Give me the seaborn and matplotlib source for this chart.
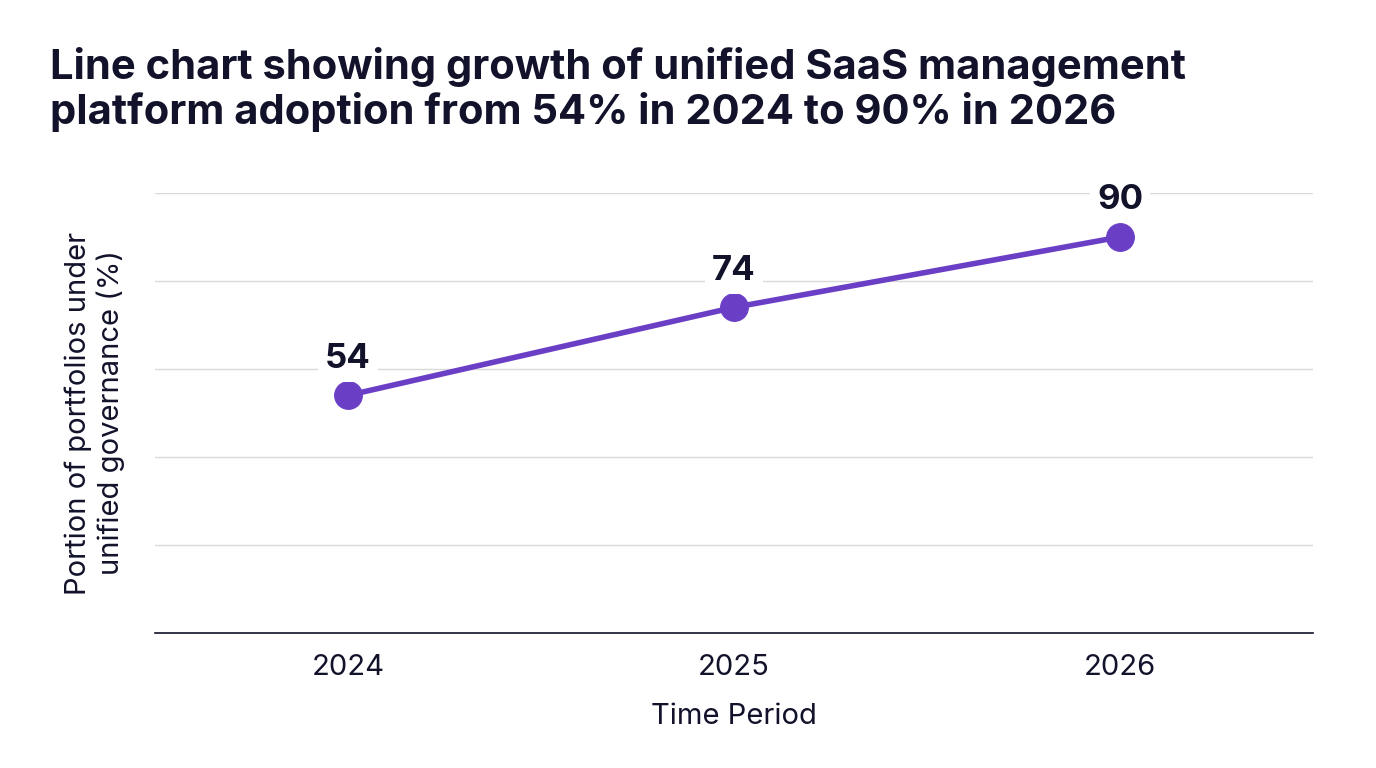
import matplotlib
matplotlib.use("Agg")
import matplotlib.pyplot as plt
import seaborn as sns
import pandas as pd

# data
years = ["2024", "2025", "2026"]
adoption = [54, 74, 90]

df = pd.DataFrame({"year": years, "adoption": adoption})

sns.set_theme(style="white")
plt.rcParams["font.family"] = ["Inter", "DejaVu Sans"]

ink = "#12122b"
purple = "#6a3fc6"

fig = plt.figure(figsize=(13.76, 7.68), dpi=100)
ax = fig.add_axes([0.1126, 0.1758, 0.8416, 0.5729])

sns.lineplot(data=df, x="year", y="adoption", ax=ax, color=purple,
             linewidth=4, marker="o", markersize=20,
             markeredgecolor=purple, sort=False)

for i, v in enumerate(adoption):
    ax.annotate(str(v), (i, v), xytext=(0, 15), textcoords="offset points",
                ha="center", va="bottom", fontsize=25, fontweight="bold",
                color=ink,
                bbox=dict(boxstyle="square,pad=0.2", fc="white", ec="none"),
                zorder=5)

ax.set_xlim(-0.5, 2.5)
ax.set_ylim(0, 100)
ax.set_yticks([0, 20, 40, 60, 80, 100])
ax.set_yticklabels([])
ax.tick_params(axis="y", length=0)
ax.tick_params(axis="x", length=0, labelsize=21, colors=ink, pad=15)
ax.yaxis.grid(True, color="#d9d9d9", linewidth=1)
ax.set_axisbelow(True)

for s in ["top", "right", "left"]:
    ax.spines[s].set_visible(False)
ax.spines["bottom"].set_color(ink)
ax.spines["bottom"].set_linewidth(1.2)

ax.set_xlabel("Time Period", fontsize=21, color=ink, labelpad=16)
ax.set_ylabel("Portion of portfolios under\nunified governance (%)",
              fontsize=21, color=ink, labelpad=18)

fig.text(0.036, 0.828, "Line chart showing growth of unified SaaS management\n"
         "platform adoption from 54% in 2024 to 90% in 2026",
         fontsize=30, fontweight="bold", color=ink, ha="left", va="bottom",
         linespacing=1.15)

fig.savefig("out.png", dpi=100, facecolor="white")
